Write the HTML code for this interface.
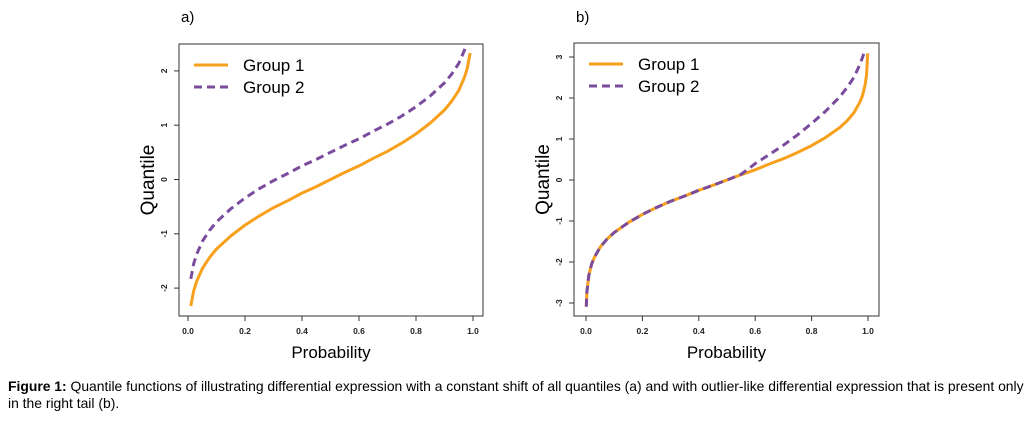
<!DOCTYPE html>
<html><head><meta charset="utf-8"><style>
body{margin:0;background:#fff;width:1035px;height:423px;overflow:hidden;font-family:"Liberation Sans",Arial,sans-serif}
#cap{position:absolute;left:8px;top:378px;width:1030px;font-size:13.9px;line-height:17px;color:#000;white-space:nowrap}
</style></head><body>
<svg id="chart" width="1035" height="423" style="position:absolute;left:0;top:0" font-family="Liberation Sans, Arial, sans-serif"></svg>
<div id="cap"><b>Figure 1:</b> Quantile functions of illustrating differential expression with a constant shift of all quantiles (a) and with outlier-like differential expression that is present only<br>in the right tail (b).</div>
<script>
const pA1=[0.01,0.02,0.03,0.05,0.075,0.1,0.15,0.2,0.25,0.3,0.35,0.4,0.45,0.5,0.55,0.6,0.65,0.7,0.75,0.8,0.85,0.9,0.925,0.95,0.97,0.98,0.99];
const qA1=[-2.33,-2.05,-1.88,-1.64,-1.44,-1.28,-1.04,-0.84,-0.67,-0.52,-0.39,-0.25,-0.13,0,0.13,0.25,0.39,0.52,0.67,0.84,1.04,1.28,1.44,1.64,1.88,2.05,2.33];
const pA2=[0.01,0.02,0.03,0.05,0.075,0.1,0.15,0.2,0.25,0.3,0.35,0.4,0.45,0.5,0.55,0.6,0.65,0.7,0.75,0.8,0.85,0.9,0.925,0.95,0.97,0.975];
const qA2=[-1.83,-1.55,-1.38,-1.14,-0.94,-0.78,-0.54,-0.34,-0.17,-0.02,0.11,0.25,0.37,0.5,0.63,0.75,0.89,1.02,1.17,1.34,1.54,1.78,1.94,2.14,2.38,2.46];
const pB1=[0.001,0.003,0.01,0.02,0.03,0.05,0.075,0.1,0.15,0.2,0.25,0.3,0.35,0.4,0.45,0.5,0.55,0.6,0.65,0.7,0.75,0.8,0.85,0.9,0.925,0.95,0.97,0.98,0.99,0.995,0.999];
const qB1=[-3.09,-2.75,-2.33,-2.05,-1.88,-1.64,-1.44,-1.28,-1.04,-0.84,-0.67,-0.52,-0.39,-0.25,-0.13,0,0.13,0.25,0.39,0.52,0.67,0.84,1.04,1.28,1.44,1.64,1.88,2.05,2.33,2.58,3.09];
const pB2=[0.001,0.003,0.01,0.02,0.03,0.05,0.075,0.1,0.15,0.2,0.25,0.3,0.35,0.4,0.45,0.5,0.55,0.6,0.65,0.7,0.75,0.8,0.85,0.9,0.925,0.95,0.97,0.98,0.99];
const qB2=[-3.09,-2.75,-2.33,-2.05,-1.88,-1.64,-1.44,-1.28,-1.04,-0.84,-0.67,-0.52,-0.39,-0.25,-0.13,0,0.14,0.4,0.62,0.85,1.1,1.38,1.68,2.03,2.25,2.5,2.8,2.98,3.2];
const xTicks=[0,0.2,0.4,0.6,0.8,1.0];
const xTickLabels=["0.0","0.2","0.4","0.6","0.8","1.0"];
const yTicksA=[-2,-1,0,1,2];
const yTicksB=[-3,-2,-1,0,1,2,3];
const legendLabels=["Group 1","Group 2"];
const ORANGE="#F7A01C",PURPLE="#7B4C9E";
const svg=document.getElementById('chart');
const NS="http://www.w3.org/2000/svg";
function mk(tag,attrs,parent,text){const e=document.createElementNS(NS,tag);for(const k in attrs)e.setAttribute(k,attrs[k]);if(text!==undefined)e.textContent=text;(parent||svg).appendChild(e);return e;}
function panel(cfg){
  const g=mk('g',{});
  
  
  const sx=p=>cfg.x0+(cfg.x1-cfg.x0)*p;
  const sy=v=>cfg.yz-cfg.yu*v;
  const box=mk('rect',{x:cfg.bx0,y:cfg.by0,width:cfg.bx1-cfg.bx0,height:cfg.by1-cfg.by0,fill:'none',stroke:'#333','stroke-width':1},g);
  
  xTicks.forEach((t,i)=>{
    mk('line',{x1:sx(t),x2:sx(t),y1:cfg.by1,y2:cfg.by1+5,stroke:'#333'},g);
    const tl=mk('text',{x:sx(t),y:cfg.by1+18,'font-size':8.5,'font-weight':'bold','text-anchor':'middle',fill:'#222'},g,xTickLabels[i]);
    
  });
  cfg.yt.forEach(t=>{
    mk('line',{x1:cfg.bx0-5,x2:cfg.bx0,y1:sy(t),y2:sy(t),stroke:'#333'},g);
    const tl=mk('text',{x:0,y:0,'font-size':8.5,'font-weight':'bold','text-anchor':'middle',fill:'#222',transform:`translate(${cfg.bx0-12},${sy(t)}) rotate(-90)`},g,String(t));
    
  });
  const xt=mk('text',{x:(cfg.bx0+cfg.bx1)/2,y:cfg.by1+42,'font-size':17,'text-anchor':'middle'},g,'Probability');
  
  const yt=mk('text',{x:0,y:0,'font-size':19,'text-anchor':'middle',transform:`translate(${cfg.bx0-25},${(cfg.by0+cfg.by1)/2}) rotate(-90)`},g,'Quantile');
  
  const pl=mk('text',{x:cfg.bx0+2,y:22,'font-size':15},g,cfg.label);
  
  const path=(ps,qs)=>ps.map((p,i)=>(i?'L':'M')+sx(p).toFixed(1)+','+sy(qs[i]).toFixed(1)).join('');
  const l1=mk('path',{d:path(cfg.p1,cfg.q1),fill:'none',stroke:ORANGE,'stroke-width':3,'stroke-linejoin':'round'},g);
  
  const l2=mk('path',{d:path(cfg.p2,cfg.q2),fill:'none',stroke:PURPLE,'stroke-width':3,'stroke-dasharray':'8,5'},g);
  
  legendLabels.forEach((lab,i)=>{
    const lg=mk('g',{},g);
    
    const y=cfg.by0+21+i*22;
    mk('line',{x1:cfg.bx0+15,x2:cfg.bx0+49,y1:y,y2:y,stroke:i?PURPLE:ORANGE,'stroke-width':3,'stroke-dasharray':i?'8,5':'none'},lg);
    mk('text',{x:cfg.bx0+64,y:y+6,'font-size':17},lg,lab);
  });
}
panel({name:'panel-a',label:'a)',bx0:179,bx1:483,by0:44,by1:316,x0:188,x1:473,yz:179.5,yu:54.3,yt:yTicksA,p1:pA1,q1:qA1,p2:pA2,q2:qA2});
panel({name:'panel-b',label:'b)',bx0:574,bx1:879,by0:43,by1:316,x0:586,x1:868,yz:180,yu:41,yt:yTicksB,p1:pB1,q1:qB1,p2:pB2,q2:qB2});
</script>
</body></html>
